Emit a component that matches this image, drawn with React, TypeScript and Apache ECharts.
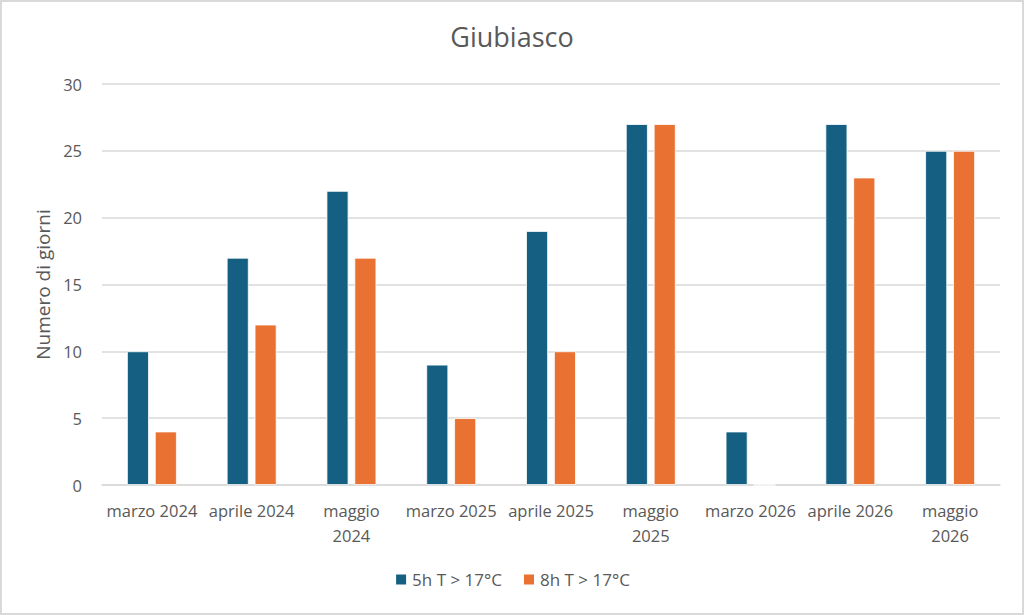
import React, { useEffect, useRef } from "react";
import * as echarts from "echarts";

const categories = [
  "marzo 2024",
  "aprile 2024",
  "maggio 2024",
  "marzo 2025",
  "aprile 2025",
  "maggio 2025",
  "marzo 2026",
  "aprile 2026",
  "maggio 2026",
];
const series5h = [10, 17, 22, 9, 19, 27, 4, 27, 25];
const series8h = [4, 12, 17, 5, 10, 27, 0, 23, 25];
const seriesNames = ["5h T > 17°C", "8h T > 17°C"];

const FONT = "'Open Sans', 'Noto Sans', sans-serif";
const TXT = "#595959";

export default function App() {
  const ref = useRef<HTMLDivElement>(null);
  useEffect(() => {
    document.body.style.margin = "0";
    const chart = echarts.init(ref.current!, undefined, { renderer: "svg" });
    chart.setOption({
      animation: false,
      backgroundColor: "#ffffff",
      title: {
        text: "Giubiasco",
        left: "center",
        top: 16,
        textStyle: { fontFamily: FONT, fontSize: 27, fontWeight: "normal", color: TXT },
      },
      grid: { left: 100, right: 22, top: 82, bottom: 128, containLabel: false },
      legend: {
        bottom: 20,
        left: "center",
        itemWidth: 12,
        itemHeight: 12,
        itemGap: 20,
        icon: "rect",
        textStyle: { fontFamily: FONT, fontSize: 17, color: TXT },
        data: seriesNames,
      },
      xAxis: {
        type: "category",
        data: categories,
        axisLine: { lineStyle: { color: "#d9d9d9", width: 1.5 } },
        axisTick: { show: false },
        axisLabel: {
          fontFamily: FONT,
          fontSize: 16.5,
          color: TXT,
          margin: 13,
          lineHeight: 25,
          interval: 0,
          formatter: (v: string) => (v.startsWith("maggio") ? v.replace(" ", "\n") : v),
        },
      },
      yAxis: {
        type: "value",
        min: 0,
        max: 30,
        interval: 5,
        name: "Numero di giorni",
        nameLocation: "middle",
        nameGap: 50,
        nameRotate: 90,
        nameTextStyle: { fontFamily: FONT, fontSize: 19, color: TXT },
        axisLine: { show: false },
        axisTick: { show: false },
        axisLabel: { fontFamily: FONT, fontSize: 16.5, color: TXT, margin: 20 },
        splitLine: { lineStyle: { color: "#d9d9d9", width: 1.5 } },
      },
      series: [
        {
          name: seriesNames[0],
          type: "bar",
          data: series5h,
          barWidth: "22%",
          barGap: "27%",
          itemStyle: { color: "#156082", borderColor: "#ffffff", borderWidth: 0.8 },
        },
        {
          name: seriesNames[1],
          type: "bar",
          data: series8h,
          barWidth: "22%",
          itemStyle: { color: "#E97132", borderColor: "#ffffff", borderWidth: 0.8 },
        },
      ],
    });
    return () => chart.dispose();
  }, []);
  return (
    <div
      style={{
        position: "absolute",
        left: 0,
        top: 0,
        width: 1024,
        height: 615,
        boxSizing: "border-box",
        border: "2px solid #d9d9d9",
        background: "#fff",
      }}
    >
      <div ref={ref} style={{ width: 1020, height: 611 }} />
    </div>
  );
}
